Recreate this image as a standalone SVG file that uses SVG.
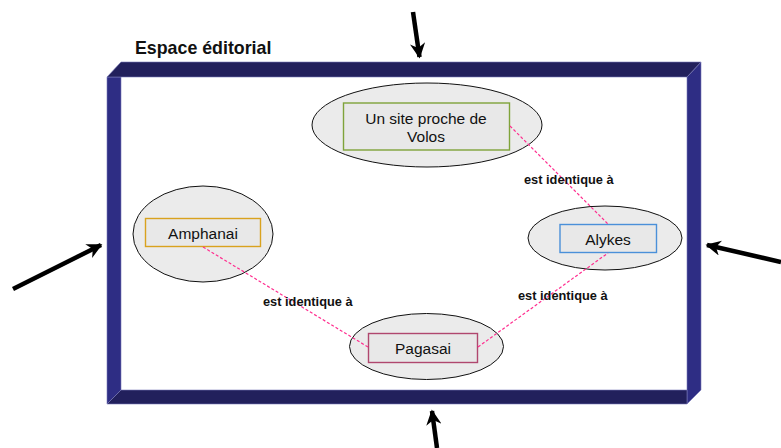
<svg xmlns="http://www.w3.org/2000/svg" width="781" height="448" viewBox="0 0 781 448">
<style>
.lbl{font-family:"Liberation Sans",Arial,sans-serif;font-weight:bold;font-size:12.8px;fill:#111;}
.txt{font-family:"Liberation Sans",Arial,sans-serif;font-size:15.5px;fill:#111;text-anchor:middle;}
.ell{fill:#EBEBEB;stroke:#111;stroke-width:1;}
.box{fill:#E8E8E8;stroke-width:1.4;}
.conn{stroke:#FF2E8F;stroke-width:1.2;stroke-dasharray:3,2;fill:none;}
.arr{stroke:#000;stroke-width:4.5;fill:none;marker-end:url(#ah);}
.hb{fill:#22205C;stroke:#7A7AB8;stroke-width:0.6;}
.vb{fill:#2E2D84;stroke:#7A7AB8;stroke-width:0.6;}
</style>
<defs>
<marker id="ah" viewBox="0 0 10 10" refX="9" refY="5" markerWidth="3.6" markerHeight="3.4" orient="auto" markerUnits="strokeWidth">
<path d="M0,0 L10,5 L0,10 L3,5 Z" fill="#000"/>
</marker>
</defs>
<rect width="781" height="448" fill="#fff"/>
<g id="frame">
<polygon class="vb" points="107,77 121,77 121,390 107,404"/>
<polygon class="vb" points="687,77 701,62 701,390 687,404"/>
<polygon class="hb" points="121,62 701,62 687,77 107,77"/>
<polygon class="hb" points="121,390 687,390 687,404 107,404"/>
<text x="135" y="54" font-family="Liberation Sans, Arial, sans-serif" font-weight="bold" font-size="17.8" fill="#111">Espace éditorial</text>
</g>
<g id="arrows">
<line class="arr" x1="413" y1="12" x2="419.5" y2="57"/>
<line class="arr" x1="781" y1="262" x2="707" y2="245"/>
<line class="arr" x1="13" y1="289" x2="101" y2="245"/>
<line class="arr" x1="437" y1="448" x2="432" y2="411"/>
</g>
<g id="node-volos">
<ellipse class="ell" cx="427" cy="125" rx="115" ry="42"/>
<rect class="box" x="343.5" y="103" width="166" height="47" stroke="#7FA33A"/>
<text class="txt" x="426" y="123.5">Un site proche de</text>
<text class="txt" x="426" y="142">Volos</text>
</g>
<g id="node-amphanai">
<ellipse class="ell" cx="203" cy="234" rx="70" ry="48"/>
<rect class="box" x="145.5" y="218.5" width="115" height="28" stroke="#D9A21E"/>
<text class="txt" x="203" y="238.5">Amphanai</text>
</g>
<g id="node-alykes">
<ellipse class="ell" cx="605" cy="238" rx="77" ry="32"/>
<rect class="box" x="560" y="224.5" width="96.5" height="28" stroke="#4A90D9"/>
<text class="txt" x="608" y="245">Alykes</text>
</g>
<g id="node-pagasai">
<ellipse class="ell" cx="426.5" cy="346.5" rx="77" ry="33"/>
<rect class="box" x="368.5" y="333.5" width="109" height="29" stroke="#B0476E"/>
<text class="txt" x="423" y="354">Pagasai</text>
</g>
<g id="connectors">
<line class="conn" x1="203" y1="247" x2="368" y2="347"/>
<line class="conn" x1="478" y1="347" x2="608" y2="253"/>
<line class="conn" x1="510" y1="126" x2="608" y2="224"/>
<text class="lbl" x="263" y="305.5">est identique à</text>
<text class="lbl" x="524" y="183.5">est identique à</text>
<text class="lbl" x="518" y="299.5">est identique à</text>
</g>
</svg>
